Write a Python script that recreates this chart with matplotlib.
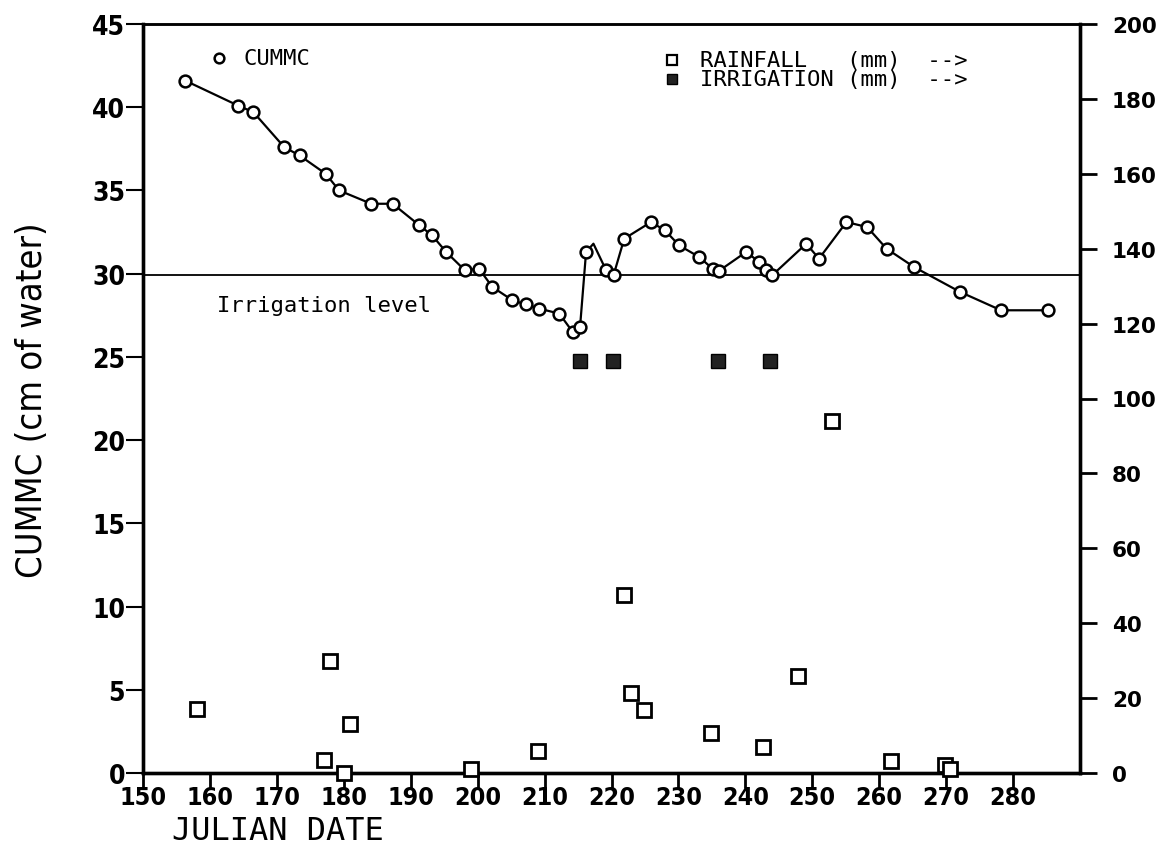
import matplotlib
matplotlib.use("Agg")
import matplotlib.pyplot as plt

# CUMMC (cm of water) by Julian date; the point at 217.3 is a line vertex with no marker
cum_day = [156.3, 164.2, 166.5, 171.1, 173.4, 177.3, 179.3, 184.1, 187.3, 191.3, 193.2, 195.3,
           198.1, 200.2, 202.2, 205.2, 207.2, 209.2, 212.2, 214.2, 215.3, 216.2, 217.3, 219.2,
           220.3, 221.9, 225.9, 228.0, 230.1, 233.1, 235.1, 236.0, 240.1, 242.1, 243.1, 244.0,
           249.1, 251.0, 255.1, 258.2, 261.1, 265.2, 272.1, 278.2, 285.2]
cum_val = [41.6, 40.1, 39.7, 37.6, 37.1, 36.0, 35.0, 34.2, 34.2, 32.9, 32.3, 31.3,
           30.2, 30.3, 29.2, 28.4, 28.15, 27.9, 27.6, 26.5, 26.8, 31.3, 31.8, 30.2,
           29.9, 32.1, 33.1, 32.6, 31.7, 31.0, 30.3, 30.15, 31.3, 30.7, 30.2, 29.9,
           31.8, 30.9, 33.1, 32.8, 31.5, 30.4, 28.9, 27.8, 27.8]
no_marker = [22]

rain_day = [158.0, 177.0, 178.0, 180.0, 181.0, 199.0, 209.0, 221.8, 222.9, 224.9,
            234.8, 242.7, 247.9, 253.0, 261.8, 269.8, 270.6]
rain_mm = [17, 3.4, 30, 0.1, 13, 1, 6, 47.5, 21.3, 16.7,
           10.7, 7, 26, 94, 3.2, 2.2, 1.0]

irr_day = [215.3, 220.2, 235.9, 243.7]
irr_mm = [110, 110, 110, 110]

irrigation_level = 29.9
x_ticks = list(range(150, 290, 10))
left_ticks = list(range(0, 50, 5))
right_ticks = list(range(0, 220, 20))

MONO = ["DejaVu Sans Mono"]

fig = plt.figure(figsize=(11.65, 8.54), dpi=100)
ax = fig.add_axes([143 / 1165, 1 - 774 / 854, 937 / 1165, 749 / 854])
ax2 = ax.twinx()

# cummc line + markers
keep = [i for i in range(len(cum_day)) if i not in no_marker]
ax.plot(cum_day, cum_val, color="black", lw=1.6, zorder=3)
ax.plot(cum_day, cum_val, ls="none", marker="o", ms=8.5, mfc="white", mec="black",
        mew=1.8, markevery=keep, zorder=4)
ax.axhline(irrigation_level, color="black", lw=1.3, zorder=2)

ax2.plot(rain_day, rain_mm, ls="none", marker="s", ms=9.5, mfc="white", mec="black",
         mew=2, clip_on=False, zorder=4)
ax2.plot(irr_day, irr_mm, ls="none", marker="s", ms=9.5, mfc="#222222", mec="black",
         mew=1, clip_on=False, zorder=4)

ax.set_xlim(150, 290)
ax.set_ylim(0, 45)
ax2.set_ylim(0, 200)
ax.set_xticks(x_ticks)
ax.set_yticks(left_ticks)
ax2.set_yticks(right_ticks)

ax.tick_params(axis="x", direction="out", length=11, width=2, pad=-2)
ax.tick_params(axis="y", direction="out", length=12, width=1.5, pad=1)
ax2.tick_params(axis="y", direction="out", length=12, width=2, pad=11)
for lab in ax.get_xticklabels():
    lab.set_fontfamily(["DejaVu Sans"]); lab.set_fontweight("bold")
    lab.set_fontstretch("condensed"); lab.set_fontsize(18)
for lab in ax.get_yticklabels():
    lab.set_fontfamily(["DejaVu Sans"]); lab.set_fontweight("bold")
    lab.set_fontstretch("condensed"); lab.set_fontsize(19)
for lab in ax2.get_yticklabels():
    lab.set_fontfamily(["DejaVu Sans"]); lab.set_fontweight("bold"); lab.set_fontsize(15.5)

for a in (ax, ax2):
    for side in ("left", "bottom", "right"):
        a.spines[side].set_linewidth(2.4)
    a.spines["top"].set_linewidth(1.8)

# legends drawn by hand like the original plotter output
ax.plot([0.081], [0.954], transform=ax.transAxes, marker="o", ms=7, mfc="white",
        mec="black", mew=1.8, clip_on=False)
ax.text(0.107, 0.954, "CUMMC", transform=ax.transAxes, family=MONO, fontsize=16,
        va="center", ha="left")
ax.plot([0.565], [0.952], transform=ax.transAxes, marker="s", ms=7.5, mfc="white",
        mec="black", mew=1.6, clip_on=False)
ax.plot([0.565], [0.926], transform=ax.transAxes, marker="s", ms=7.5, mfc="#222222",
        mec="black", mew=1, clip_on=False)
ax.text(0.594, 0.952, "RAINFALL   (mm)  -->", transform=ax.transAxes, family=MONO,
        fontsize=16, va="center", ha="left")
ax.text(0.594, 0.926, "IRRIGATION (mm)  -->", transform=ax.transAxes, family=MONO,
        fontsize=16, va="center", ha="left")

ax.text(0.079, (774 - 306) / 749, "Irrigation level", transform=ax.transAxes,
        family=MONO, fontsize=16, va="center", ha="left")

fig.text(32 / 1165, 1 - 400 / 854, "CUMMC (cm of water)", rotation=90,
         family=["DejaVu Sans"], fontstretch="condensed", fontsize=26,
         va="center", ha="center")
fig.text(172 / 1165, 1 - 832 / 854, "JULIAN DATE", family=MONO, fontsize=23,
         va="center", ha="left")

fig.savefig("out.png", dpi=100, facecolor="white")
